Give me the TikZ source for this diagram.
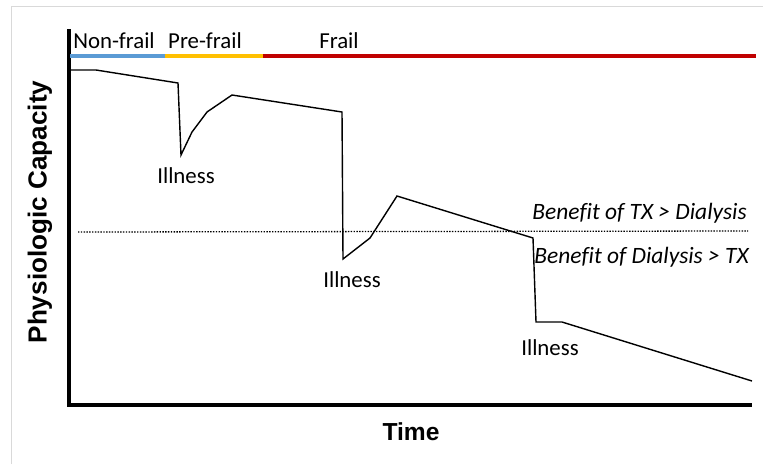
\documentclass[tikz,border=0pt]{standalone}
\usepackage{fontspec}
\setmainfont{Carlito}[Ligatures=NoCommon]
\newfontfamily\arialfont{Liberation Sans}
\usetikzlibrary{positioning}

\begin{document}
\begin{tikzpicture}[
    x=0.03cm, y=-0.03cm,
    lbl/.style={font=\fontsize{19.5}{22}\selectfont, inner sep=0pt, anchor=base},
    benefit/.style={font=\fontsize{20}{22}\selectfont\itshape, inner sep=0pt, anchor=base east},
    axislbl/.style={font=\arialfont\bfseries\fontsize{21}{24}\selectfont, inner sep=0pt},
    axis/.style={line width=2.6pt},
    stage/.style={line width=2.6pt},
    curve/.style={line width=1.2pt, line join=miter}
]
\useasboundingbox (0,0) rectangle (763,464);

% cornice
\draw[black!15, line width=0.8pt] (11,464) -- (11,6) -- (763,6);

% assi
\coordinate (O) at (69,405);
\coordinate (ytop) at (69,29);
\coordinate (xend) at (752,405);
\draw[axis] (ytop) -- (O) -- (xend);

% fasi
\coordinate (s0) at (70,56);
\coordinate (s1) at (165,56);
\coordinate (s2) at (263,56);
\coordinate (s3) at (756,56);
\draw[stage, color={rgb,255:red,91;green,155;blue,213}] (s0) -- (s1);
\draw[stage, color={rgb,255:red,255;green,192;blue,0}] (s1) -- (s2);
\draw[stage, color={rgb,255:red,192;green,0;blue,0}] (s2) -- (s3);
\node[lbl] (nonfrail) at (114,48) {Non-frail};
\node[lbl] (prefrail) at (205,48) {Pre-frail};
\node[lbl] (frail) at (339,48) {Frail};

% soglia
\coordinate (th0) at (78,232);
\coordinate (th1) at (748,231);
\draw[dash pattern=on 1.2pt off 1.2pt, line width=1.1pt] (th0) -- (th1);
\node[benefit] (txbetter) at (747,219) {Benefit of TX > Dialysis};
\node[benefit] (dialbetter) at (749,263) {Benefit of Dialysis > TX};

% capacita
\draw[curve] (69,70) -- (96,70) -- (178,83) -- (181,155) -- (192,132) -- (207,112)
    -- (232,95) -- (342,112) -- (343,259) -- (370,238) -- (397,196) -- (533,238)
    -- (536,322) -- (562,322) -- (752,381);

% malattie
\node[lbl] (ill1) at (186,183) {Illness};
\node[lbl] (ill2) at (352,287) {Illness};
\node[lbl] (ill3) at (550,355) {Illness};

% etichette assi
\node[axislbl] (time) at (411,432) {Time};
\node[axislbl, font=\arialfont\bfseries\fontsize{22.3}{24}\selectfont, rotate=90] (capacity) at (40,212) {Physiologic Capacity};
\end{tikzpicture}
\end{document}
